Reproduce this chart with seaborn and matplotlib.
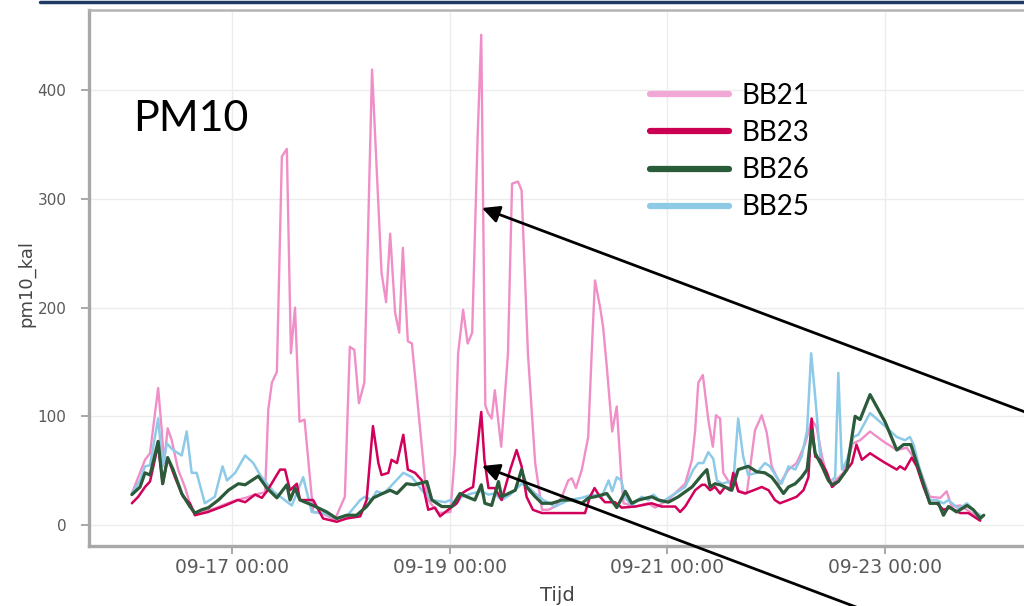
import matplotlib
matplotlib.use("Agg")
import matplotlib.pyplot as plt
import matplotlib.dates as mdates
from matplotlib.lines import Line2D
import numpy as np
import pandas as pd
import seaborn as sns

# ---------------- data (hours since 2020-09-16 00:00, pm10_kal values) -------------
start = pd.Timestamp("2020-09-16 00:00")

bb21_hours = [1.9, 4.8, 5.9, 7.7, 8.5, 9.0, 9.8, 10.7, 12.1, 13.6,
              14.7, 15.8, 17.5, 20.0, 23.0, 25.0, 27.0, 29.0, 31.3, 32.0,
              32.8, 33.9, 35.0, 36.1, 37.0, 37.9, 38.9, 40.0, 41.9, 43.7,
              46.7, 48.9, 50.0, 51.0, 52.0, 53.2, 54.9, 57.0, 58.0, 58.9,
              60.0, 60.9, 61.7, 62.8, 63.7, 66.6, 67.3, 69.5, 72.2, 73.2,
              73.9, 75.0, 76.0, 77.0, 78.2, 79.0, 79.9, 80.5, 81.3, 82.0,
              83.4, 84.9, 85.8, 87.1, 87.9, 89.3, 90.9, 92.4, 93.8, 95.3,
              96.8, 98.2, 99.0, 99.9, 101.2, 102.6, 103.4, 104.1, 105.2, 105.9,
              106.7, 107.9, 108.9, 109.9, 110.4, 113.0, 115.8, 117.4, 120.2, 122.5,
              124.0, 125.5, 126.2, 126.9, 127.9, 129.1, 130.1, 130.8, 131.7, 132.4,
              133.9, 134.6, 135.7, 137.6, 139.4, 140.9, 142.0, 143.1, 144.9, 146.8,
              148.6, 150.5, 151.9, 153.0, 154.2, 155.6, 156.4, 158.9, 161.0, 162.6,
              164.8, 167.7, 170.7, 172.9, 174.3, 175.8, 178.0, 180.3, 181.7, 182.8,
              184.7, 186.9, 189.1]
bb21_vals = [29, 60, 66, 126, 87, 57, 89, 78, 51, 35,
             20, 11, 12, 15, 20, 23, 25, 28, 30, 106,
             131, 141, 339, 346, 158, 200, 95, 97, 12, 11,
             5, 26, 164, 161, 112, 131, 419, 232, 205, 268,
             195, 177, 255, 169, 167, 41, 23, 11, 12, 66,
             158, 198, 167, 177, 357, 451, 110, 103, 98, 124,
             72, 158, 314, 316, 308, 158, 57, 14, 14, 17,
             26, 41, 43, 34, 51, 81, 161, 225, 201, 182,
             146, 86, 109, 44, 20, 17, 20, 16, 23, 32,
             38, 60, 87, 131, 138, 97, 72, 101, 98, 48,
             38, 44, 32, 29, 87, 101, 85, 54, 38, 51,
             57, 75, 97, 90, 63, 41, 38, 48, 75, 78,
             86, 77, 69, 71, 63, 51, 26, 25, 31, 17,
             18, 12, 5]

bb23_hours = [1.9, 3.3, 4.8, 5.9, 7.7, 8.7, 9.8, 11.4, 13.2, 14.7,
              15.8, 18.7, 22.5, 25.3, 26.9, 29.1, 30.6, 31.3, 31.7, 34.6,
              35.7, 36.8, 38.3, 39.0, 41.9, 44.1, 47.1, 49.3, 52.3, 53.7,
              55.1, 56.3, 57.0, 58.5, 59.2, 60.4, 61.8, 62.8, 64.4, 65.9,
              67.3, 68.8, 69.9, 71.7, 73.6, 74.7, 75.8, 77.2, 79.0, 79.7,
              80.6, 82.0, 83.5, 85.4, 86.8, 87.9, 89.0, 90.4, 92.4, 98.2,
              101.9, 103.0, 104.0, 105.2, 106.3, 108.5, 110.0, 113.0, 116.6, 118.8,
              121.8, 122.9, 124.0, 126.2, 127.7, 128.4, 129.5, 130.6, 131.7, 132.8,
              133.9, 134.6, 135.7, 137.2, 139.1, 140.9, 142.4, 143.8, 144.9, 146.8,
              148.6, 150.1, 151.2, 151.9, 152.7, 153.8, 155.3, 156.4, 157.8, 159.7,
              160.8, 161.8, 163.0, 164.8, 167.8, 170.7, 171.4, 172.5, 174.0, 175.1,
              176.6, 178.0, 179.5, 181.0, 182.5, 184.7, 186.5, 189.1]
bb23_vals = [20, 26, 35, 40, 74, 38, 62, 44, 26, 20,
             9, 12, 18, 23, 21, 28, 25, 29, 31, 51,
             51, 32, 38, 23, 23, 6, 3, 6, 8, 23,
             91, 57, 46, 48, 60, 57, 83, 51, 48, 41,
             14, 16, 8, 14, 20, 29, 32, 35, 104, 60,
             34, 34, 23, 51, 69, 54, 26, 14, 11, 11,
             11, 26, 34, 26, 21, 21, 16, 17, 20, 17,
             17, 12, 17, 32, 37, 37, 32, 35, 29, 35,
             32, 48, 31, 29, 32, 35, 32, 23, 20, 23,
             26, 32, 44, 98, 63, 60, 48, 35, 40, 51,
             57, 74, 60, 66, 58, 51, 54, 51, 62, 54,
             35, 20, 20, 14, 16, 11, 11, 4]

bb26_hours = [1.9, 3.7, 4.8, 5.9, 7.7, 8.7, 9.8, 11.0, 12.9, 14.7,
              15.8, 17.3, 18.8, 21.0, 23.2, 25.4, 26.9, 29.8, 31.7, 33.9,
              36.1, 36.8, 37.9, 39.0, 41.9, 44.9, 47.1, 49.3, 51.5, 53.7,
              55.2, 56.7, 58.9, 60.4, 62.5, 64.2, 67.0, 68.1, 70.3, 72.5,
              74.3, 75.8, 77.6, 79.0, 79.8, 81.3, 82.8, 83.5, 85.0, 86.5,
              87.9, 89.0, 90.9, 92.4, 94.6, 96.8, 99.0, 101.2, 102.7, 104.1,
              106.7, 108.9, 110.8, 112.2, 113.7, 116.6, 118.1, 120.3, 122.5, 125.5,
              127.7, 128.8, 129.5, 130.6, 131.7, 132.8, 134.3, 135.7, 137.9, 139.8,
              141.6, 143.1, 144.2, 145.7, 146.8, 148.3, 149.7, 150.9, 151.9, 152.7,
              154.2, 155.6, 156.4, 157.8, 159.7, 161.5, 162.6, 164.8, 168.1, 170.7,
              172.2, 173.8, 175.8, 178.0, 179.9, 181.0, 182.1, 183.9, 186.2, 187.6,
              189.1, 189.9]
bb26_vals = [28, 35, 48, 46, 77, 38, 62, 51, 29, 17,
             11, 14, 16, 23, 32, 38, 37, 45, 34, 25,
             37, 23, 34, 23, 18, 12, 6, 9, 9, 17,
             25, 28, 32, 29, 38, 37, 40, 23, 17, 17,
             29, 26, 23, 37, 20, 18, 40, 26, 29, 32,
             51, 35, 26, 20, 20, 23, 23, 20, 25, 26,
             29, 16, 31, 20, 23, 26, 23, 21, 26, 35,
             46, 51, 35, 38, 37, 35, 32, 51, 54, 49,
             48, 44, 38, 29, 35, 38, 44, 51, 87, 66,
             54, 41, 37, 40, 51, 100, 97, 120, 95, 69,
             74, 74, 48, 20, 20, 9, 17, 12, 18, 14,
             6, 9]

bb25_hours = [1.9, 3.7, 4.8, 5.9, 7.7, 8.7, 9.6, 11.0, 12.9, 14.0,
              15.1, 16.2, 18.0, 20.2, 21.9, 22.9, 24.7, 26.9, 28.7, 30.2,
              33.1, 37.2, 39.7, 41.6, 44.2, 47.1, 49.3, 52.3, 53.3, 54.8,
              55.9, 57.4, 58.9, 60.0, 61.8, 63.7, 65.9, 68.1, 71.0, 72.2,
              73.2, 74.7, 76.9, 79.0, 80.6, 82.0, 83.5, 85.4, 87.9, 89.4,
              90.9, 92.7, 95.3, 98.3, 101.2, 103.4, 105.6, 107.1, 107.9, 108.9,
              109.9, 110.8, 112.2, 114.4, 115.9, 117.0, 118.8, 121.8, 124.0, 125.8,
              126.9, 128.0, 129.1, 130.2, 131.0, 132.1, 133.9, 134.6, 135.7, 136.8,
              137.9, 139.8, 141.6, 142.7, 144.2, 145.3, 146.8, 148.3, 149.7, 150.9,
              151.8, 152.7, 153.8, 155.3, 156.0, 157.1, 157.8, 158.6, 159.7, 161.1,
              162.2, 164.8, 167.8, 170.7, 172.5, 173.6, 174.4, 175.8, 178.0, 179.5,
              181.0, 182.1, 184.3, 186.2, 188.0, 189.5]
bb25_vals = [29, 41, 54, 55, 98, 54, 75, 69, 64, 86,
             48, 48, 20, 26, 54, 41, 48, 64, 57, 46,
             31, 18, 44, 12, 11, 6, 8, 23, 26, 23,
             31, 29, 35, 40, 48, 44, 32, 23, 21, 23,
             18, 26, 29, 31, 28, 29, 23, 28, 38, 35,
             29, 23, 17, 23, 25, 28, 26, 41, 31, 44,
             41, 25, 18, 26, 23, 28, 21, 29, 35, 51,
             57, 57, 67, 61, 41, 38, 40, 38, 98, 63,
             46, 48, 57, 54, 44, 38, 54, 51, 63, 87,
             158, 118, 63, 44, 40, 44, 140, 51, 60, 81,
             83, 103, 92, 81, 78, 81, 74, 51, 23, 23,
             20, 23, 15, 20, 12, 8]

series_names = ["BB21", "BB23", "BB26", "BB25"]
colors = {"BB21": "#F08FC7", "BB23": "#D1005A", "BB26": "#2B5B3A", "BB25": "#8DCAE8"}
legend_colors = {"BB21": "#F2A8D6", "BB23": "#CC0052", "BB26": "#2A5C3A", "BB25": "#8EC9E6"}
x_ticks = ["2020-09-17 00:00", "2020-09-19 00:00", "2020-09-21 00:00", "2020-09-23 00:00"]
y_ticks = [0, 100, 200, 300, 400]

# ---------------- build tidy frame ------------------------------------------------
frames = []
for name, hrs, vals in [("BB21", bb21_hours, bb21_vals), ("BB25", bb25_hours, bb25_vals),
                        ("BB23", bb23_hours, bb23_vals), ("BB26", bb26_hours, bb26_vals)]:
    d = pd.DataFrame({"hours": hrs, "pm10_kal": vals})
    d["Tijd"] = start + pd.to_timedelta(d["hours"], unit="h")
    d["sensor"] = name
    frames.append(d)
df = pd.concat(frames, ignore_index=True)

# ---------------- figure ------------------------------------------------------------
sns.set_theme(style="white")
plt.rcParams["font.family"] = ["DejaVu Sans"]

W, H = 1024, 606
fig = plt.figure(figsize=(W / 100, H / 100), dpi=100)
fig.patch.set_facecolor("white")

ax_left, ax_right, ax_top, ax_bottom = 89, 1035, 10, 546
ax = fig.add_axes([ax_left / W, 1 - ax_bottom / H, (ax_right - ax_left) / W, (ax_bottom - ax_top) / H])
ax.set_facecolor("white")

widths = {"BB21": 1.7, "BB25": 1.8, "BB23": 1.8, "BB26": 2.3}
for z, name in enumerate(["BB21", "BB25", "BB23", "BB26"]):
    sns.lineplot(data=df[df["sensor"] == name], x="Tijd", y="pm10_kal", color=colors[name],
                 lw=widths[name], estimator=None, sort=True, ax=ax, zorder=3 + z, legend=False)

# axis ranges (matching the reference pixel geometry)
ax.set_xlim(start + pd.Timedelta(hours=-7.56), start + pd.Timedelta(hours=201.2))
ax.set_ylim(-19.3, 473.8)

ax.set_xticks(pd.to_datetime(x_ticks))
ax.xaxis.set_major_formatter(mdates.DateFormatter("%m-%d %H:%M"))
ax.set_yticks(y_ticks)

ax.grid(True, color="#ECECEC", lw=1.0, zorder=0)
ax.set_axisbelow(True)

for side in ["left", "bottom"]:
    ax.spines[side].set_color("#A8A8A8")
    ax.spines[side].set_linewidth(2.4)
ax.spines["top"].set_color("#B4B4B4")
ax.spines["top"].set_linewidth(1.8)
ax.spines["right"].set_visible(False)

ax.tick_params(axis="x", direction="out", length=5.8, width=1.4, color="#A8A8A8",
               labelsize=13.5, labelcolor="#5A5A5A", pad=2.5, bottom=True)
ax.tick_params(axis="y", direction="out", length=5.8, width=1.4, color="#A8A8A8",
               labelsize=11, labelcolor="#5A5A5A", pad=10.5, left=True)

ax.set_xlabel("Tijd", fontsize=14, color="#444444")
ax.set_ylabel("pm10_kal", fontsize=13, color="#444444")
ax.xaxis.set_label_coords(0.495, -0.0746)
ax.yaxis.set_label_coords(-0.057, 0.49)

# legend
handles = [Line2D([0], [0], color=legend_colors[n], lw=4.5) for n in series_names]
leg = ax.legend(handles, series_names, loc="upper left",
                bbox_to_anchor=(650 / W, 1 - 83 / H), bbox_transform=fig.transFigure,
                frameon=False, prop={"family": "Lato", "size": 20},
                handlelength=2.85, handletextpad=0.45, labelspacing=0.40, borderpad=0,
                borderaxespad=0)
for t in leg.get_texts():
    t.set_color("black")

# title-like label
fig.text(133 / W, 1 - 131 / H, "PM10", fontsize=31, family="Lato", color="black",
         ha="left", va="baseline")

# annotation arrows (coordinates in figure pixels, origin bottom-left)
arrow_kw = dict(arrowstyle="-|>", color="black", lw=2.0, mutation_scale=26,
                shrinkA=0, shrinkB=0)
ax.annotate("", xy=(482, H - 208), xycoords="figure pixels",
            xytext=(1045, H - 419.5), textcoords="figure pixels",
            arrowprops=arrow_kw, annotation_clip=False, zorder=20)
ax.annotate("", xy=(482, H - 466), xycoords="figure pixels",
            xytext=(905, H - 625.5), textcoords="figure pixels",
            arrowprops=arrow_kw, annotation_clip=False, zorder=20)

# slide top rule
fig.add_artist(Line2D([40 / W, 1.0], [1 - 1.5 / H, 1 - 1.5 / H], transform=fig.transFigure,
                      color="#1F3B63", lw=2.5))

fig.savefig("out.png", dpi=100, facecolor="white")
